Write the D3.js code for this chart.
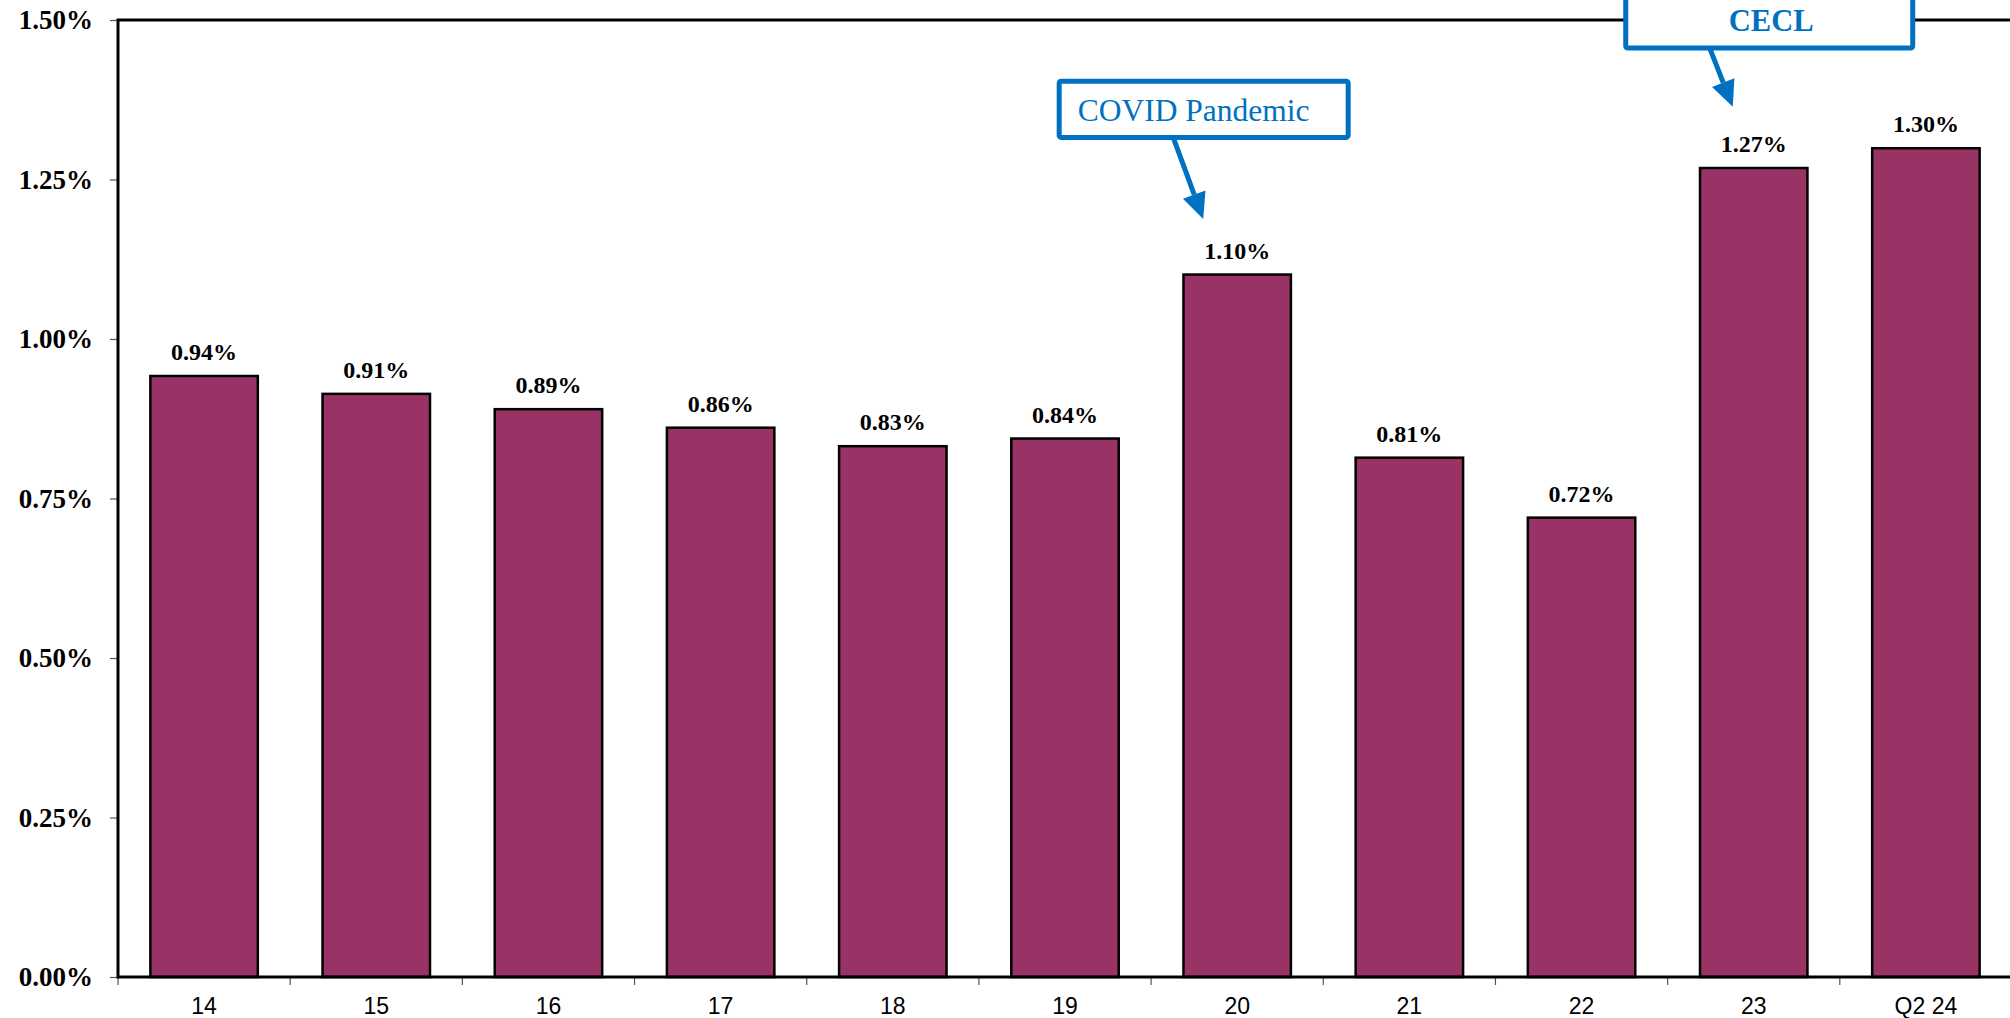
<!DOCTYPE html>
<html lang="en">
<head>
    <meta charset="UTF-8">
    <title>Reserve Ratio by Year</title>
    <style>
        body { margin: 0; background: #fff; overflow: hidden; }
        #chart { width: 2010px; height: 1018px; }
    </style>
</head>
<body>
    <div id="chart"></div>

    <script src="https://d3js.org/d3.v7.min.js"></script>
    <script>
        // chart data
        const categories = ['14', '15', '16', '17', '18', '19', '20', '21', '22', '23', 'Q2 24'];
        const values = [0.942, 0.914, 0.890, 0.861, 0.832, 0.844, 1.101, 0.814, 0.720, 1.268, 1.299];
        const yTicks = [0, 0.25, 0.5, 0.75, 1.0, 1.25, 1.5];

        // callouts: category the arrow points at, value at arrow tip, value at box bottom / top
        const noteLabels = ['COVID Pandemic', 'CECL'];
        const noteCats = ['20', '23'];
        const noteTip = [1.188, 1.364];
        const noteBoxBottom = [1.316, 1.456];
        const noteBoxTop = [1.404, 1.54];

        const blue = '#0070C0';
        const margin = {top: 20, right: -2, bottom: 41, left: 118};
        const width = 2010 - margin.left - margin.right;
        const height = 1018 - margin.top - margin.bottom;

        const svg = d3.select('#chart')
                      .append('svg')
                      .attr('width', 2010)
                      .attr('height', 1018)
                      .append('g')
                      .attr('transform', 'translate(' + margin.left + ',' + margin.top + ')');

        const x = d3.scaleBand()
                    .domain(categories)
                    .range([0, width])
                    .paddingInner(0.376)
                    .paddingOuter(0.188);

        const y = d3.scaleLinear()
                    .domain([0, 1.5])
                    .range([height, 0]);

        // y axis labels and ticks
        const yAxis = svg.append('g')
           .call(d3.axisLeft(y).tickValues(yTicks).tickSize(8).tickFormat(d => d.toFixed(2) + '%'));
        yAxis.select('.domain').remove();
        yAxis.selectAll('line').attr('stroke', '#555').attr('stroke-width', 1.2);
        yAxis.selectAll('text')
             .attr('x', -25)
             .style('font-family', '"Liberation Serif", "Times New Roman", serif')
             .style('font-weight', 'bold')
             .style('font-size', '27px')
             .attr('fill', '#000');

        // x axis ticks between categories
        const step = x.step();
        svg.append('g')
           .selectAll('line')
           .data(d3.range(categories.length))
           .enter()
           .append('line')
           .attr('x1', i => i * step)
           .attr('x2', i => i * step)
           .attr('y1', height)
           .attr('y2', height + 8)
           .attr('stroke', '#555')
           .attr('stroke-width', 1.2);

        svg.append('g')
           .selectAll('text')
           .data(categories)
           .enter()
           .append('text')
           .attr('x', d => x(d) + x.bandwidth() / 2)
           .attr('y', height + 37)
           .attr('text-anchor', 'middle')
           .style('font-family', '"Liberation Sans", Arial, sans-serif')
           .style('font-size', '23px')
           .text(d => d);

        // bars
        svg.selectAll('.bar')
           .data(values)
           .enter()
           .append('rect')
           .attr('class', 'bar')
           .attr('x', (d, i) => x(categories[i]))
           .attr('y', d => y(d))
           .attr('width', x.bandwidth())
           .attr('height', d => height - y(d))
           .attr('fill', '#993366')
           .attr('stroke', '#000')
           .attr('stroke-width', 2.5);

        svg.selectAll('.val')
           .data(values)
           .enter()
           .append('text')
           .attr('class', 'val')
           .attr('x', (d, i) => x(categories[i]) + x.bandwidth() / 2)
           .attr('y', d => y(d) - 16)
           .attr('text-anchor', 'middle')
           .style('font-family', '"Liberation Serif", "Times New Roman", serif')
           .style('font-weight', 'bold')
           .style('font-size', '24px')
           .text(d => d.toFixed(2) + '%');

        // plot frame: left, top, bottom
        svg.append('path')
           .attr('d', 'M' + (width + 10) + ',0H0V' + height + 'H' + (width + 10))
           .attr('fill', 'none')
           .attr('stroke', '#000')
           .attr('stroke-width', 3);

        // callouts
        noteLabels.forEach((label, i) => {
            const cx = x(noteCats[i]) + x.bandwidth() / 2;
            const isBold = i === 1;
            const boxW = isBold ? 287 : 289;
            const boxX = isBold ? cx - 128 : cx - 178;
            const boxTop = y(noteBoxTop[i]);
            const boxBottom = y(noteBoxBottom[i]);
            const tipX = isBold ? cx - 21 : cx - 34;
            const baseX = isBold ? cx - 44 : cx - 64;
            const tipY = y(noteTip[i]);

            const g = svg.append('g');
            // arrow shaft
            const ang = Math.atan2(tipY - boxBottom, tipX - baseX);
            const headLen = 26, headW = 12;
            const sx = tipX - Math.cos(ang) * headLen;
            const sy = tipY - Math.sin(ang) * headLen;
            g.append('line')
             .attr('x1', baseX).attr('y1', boxBottom)
             .attr('x2', sx).attr('y2', sy)
             .attr('stroke', blue)
             .attr('stroke-width', 5);
            const px = -Math.sin(ang), py = Math.cos(ang);
            g.append('path')
             .attr('d', 'M' + tipX + ',' + tipY +
                        'L' + (sx + px * headW) + ',' + (sy + py * headW) +
                        'L' + (sx - px * headW) + ',' + (sy - py * headW) + 'Z')
             .attr('fill', blue);

            g.append('rect')
             .attr('x', boxX)
             .attr('y', boxTop)
             .attr('width', boxW)
             .attr('height', boxBottom - boxTop)
             .attr('rx', 2)
             .attr('fill', '#fff')
             .attr('stroke', blue)
             .attr('stroke-width', 5);

            g.append('text')
             .attr('x', isBold ? boxX + boxW / 2 + 2 : boxX + 18.5)
             .attr('y', boxBottom - (isBold ? 17.5 : 16))
             .attr('text-anchor', isBold ? 'middle' : 'start')
             .attr('fill', blue)
             .style('font-family', '"Liberation Serif", "Times New Roman", serif')
             .style('font-weight', isBold ? 'bold' : 'normal')
             .style('font-size', isBold ? '30.5px' : '31.5px')
             .text(label);
        });
    </script>
</body>
</html>
